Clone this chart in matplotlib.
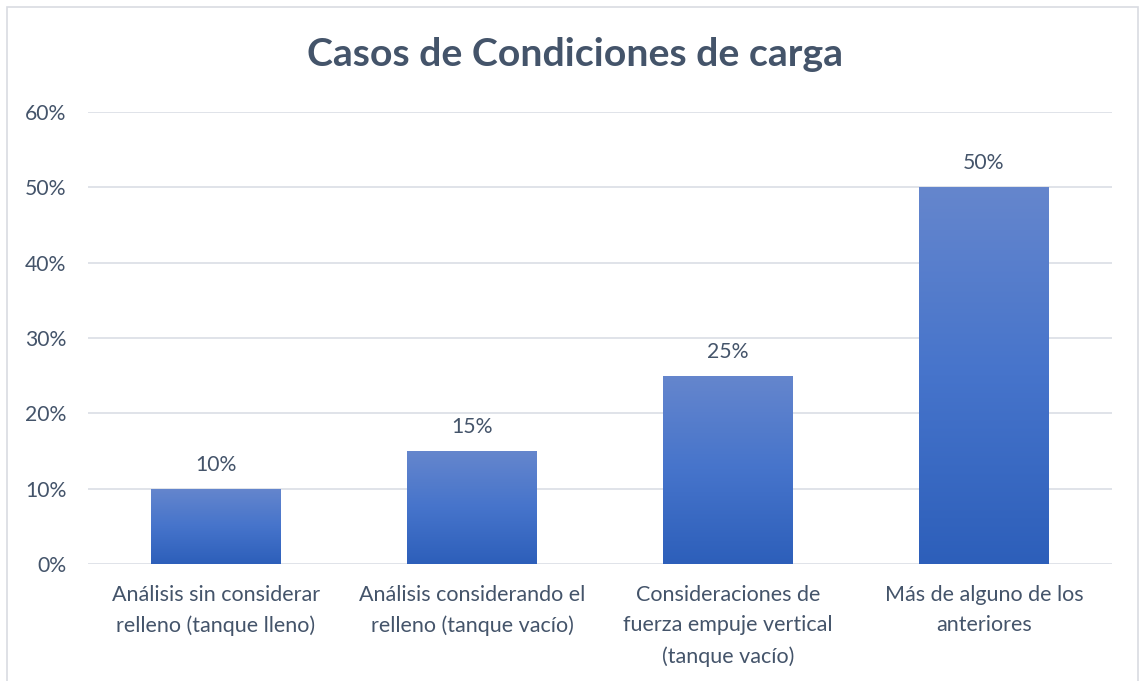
import numpy as np
import matplotlib.pyplot as plt
from matplotlib.patches import Rectangle
from matplotlib.colors import LinearSegmentedColormap
from matplotlib.ticker import PercentFormatter

categories = [
    "Análisis sin considerar\nrelleno (tanque lleno)",
    "Análisis considerando el\nrelleno (tanque vacío)",
    "Consideraciones de\nfuerza empuje vertical\n(tanque vacío)",
    "Más de alguno de los\nanteriores",
]
values = [0.10, 0.15, 0.25, 0.50]
title = "Casos de Condiciones de carga"

text_color = "#44546a"
grid_color = "#dde1e7"
bar_cmap = LinearSegmentedColormap.from_list("bar_grad", ["#2d5fba", "#4674cb", "#6586cd"])

plt.rcParams['font.family'] = ['Lato', 'DejaVu Sans']

fig = plt.figure(figsize=(11.41, 6.81), dpi=100)
ax = fig.add_axes([88 / 1141, 1 - 564 / 681, 1024 / 1141, 452 / 681])

x = np.arange(len(categories))
bars = ax.bar(x, values, width=0.505, color="none", edgecolor="none", zorder=2)

# vertical gradient inside each bar, clipped to the bar shape
grad = np.linspace(0, 1, 256).reshape(-1, 1)
for b in bars:
    x0, y0 = b.get_x(), b.get_y()
    w, h = b.get_width(), b.get_height()
    im = ax.imshow(grad, cmap=bar_cmap, origin="lower", aspect="auto",
                   extent=[x0, x0 + w, y0, y0 + h], zorder=2)
    im.set_clip_path(b)

for xi, v in zip(x, values):
    ax.annotate(f"{v:.0%}", (xi, v), xytext=(0, 10), textcoords="offset points",
                ha="center", va="bottom", fontsize=15.2, color=text_color)

ax.set_xlim(-0.5, len(categories) - 0.5)
ax.set_ylim(0, 0.6)
ax.set_yticks(np.arange(0, 0.61, 0.1))
ax.yaxis.set_major_formatter(PercentFormatter(1.0, decimals=0))
ax.set_xticks(x)
ax.set_xticklabels(categories, fontsize=15.5, color=text_color, linespacing=1.65)
ax.tick_params(axis="x", length=0, pad=15)
ax.tick_params(axis="y", length=0, pad=15.5, labelsize=15.2, labelcolor=text_color)
for lbl in ax.get_yticklabels():
    lbl.set_color(text_color)

ax.grid(axis="y", color=grid_color, linewidth=1.3, zorder=0)
ax.set_axisbelow(True)
for s in ax.spines.values():
    s.set_visible(False)

fig.text(575 / 1141, 1 - 55 / 681, title, ha="center", va="center",
         fontsize=28.3, fontweight="bold", color=text_color)

# outer chart frame
fig.patches.append(Rectangle((7 / 1141, -0.05), 1131 / 1141, 1.05 - 7 / 681,
                             transform=fig.transFigure, fill=False,
                             edgecolor="#d9dce2", linewidth=1.2))

fig.savefig("out.png", dpi=100)
